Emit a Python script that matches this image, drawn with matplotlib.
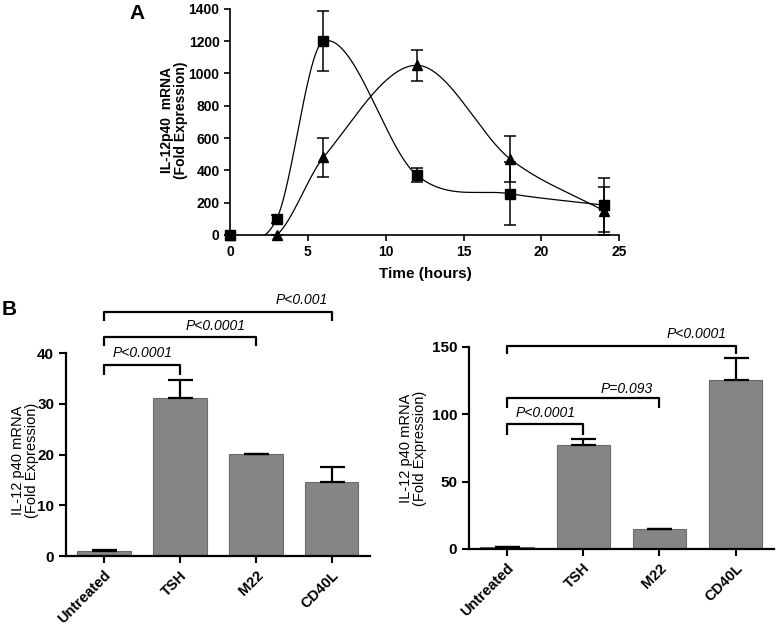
import numpy as np
import matplotlib
matplotlib.use('Agg')
import matplotlib.pyplot as plt
from matplotlib import font_manager

# panel A: time course
hours = [0, 3, 6, 12, 18, 24]
sq_vals = [0, 100, 1200, 370, 255, 185]
sq_err = [0, 25, 185, 45, 195, 165]
tri_vals = [0, 0, 480, 1050, 470, 150]
tri_err = [0, 0, 120, 95, 140, 150]

# panel B: bars
groups = ['Untreated', 'TSH', 'M22', 'CD40L']
left_vals = [1.1, 31.2, 20.1, 14.7]
left_err = [0.1, 3.5, 0.1, 2.8]
right_vals = [1.5, 77.5, 14.8, 125.5]
right_err = [0.3, 4.0, 0.3, 16.0]

left_labels = ['P<0.0001', 'P<0.0001', 'P<0.001']
right_labels = ['P<0.0001', 'P=0.093', 'P<0.0001']


def has_font(name):
    try:
        font_manager.findfont(font_manager.FontProperties(family=name),
                              fallback_to_default=False)
        return True
    except Exception:
        return False


narrow = 'Liberation Sans Narrow' if has_font('Liberation Sans Narrow') else 'Liberation Sans'
plt.rcParams['font.family'] = ['Liberation Sans', 'DejaVu Sans']


def smooth(x, y, xs):
    # cubic Hermite curve with centred-difference slopes (like a cardinal spline)
    x = np.asarray(x, float)
    y = np.asarray(y, float)
    n = len(x)
    h = np.diff(x)
    m = np.zeros(n)
    for k in range(1, n - 1):
        m[k] = (y[k + 1] - y[k - 1]) / (x[k + 1] - x[k - 1])
    m[-1] = (y[-1] - y[-2]) / h[-1]
    out = np.empty_like(xs)
    for i, xv in enumerate(xs):
        k = min(np.searchsorted(x, xv, side='right') - 1, n - 2)
        t = (xv - x[k]) / h[k]
        h00 = 2 * t**3 - 3 * t**2 + 1
        h10 = t**3 - 2 * t**2 + t
        h01 = -2 * t**3 + 3 * t**2
        h11 = t**3 - t**2
        out[i] = h00 * y[k] + h10 * h[k] * m[k] + h01 * y[k + 1] + h11 * h[k] * m[k + 1]
    return out


fig = plt.figure(figsize=(7.77, 6.25), dpi=100)

# ---------- panel A ----------
axA = fig.add_axes([0.296, 0.624, 0.501, 0.362])
xs = np.linspace(0, 24, 400)
axA.plot(xs, smooth(hours, sq_vals, xs), color='black', lw=0.9)
axA.plot(xs, smooth(hours, tri_vals, xs), color='black', lw=0.9)
axA.errorbar(hours, tri_vals, yerr=tri_err, fmt='^', color='black', ms=7.5,
             elinewidth=1.1, capsize=4.5, capthick=1.1, clip_on=False, zorder=3)
axA.errorbar(hours, sq_vals, yerr=sq_err, fmt='s', color='black', ms=7.5,
             elinewidth=1.1, capsize=4.5, capthick=1.1, clip_on=False, zorder=4)
axA.set_xlim(0, 25)
axA.set_ylim(0, 1400)
axA.set_xticks([0, 5, 10, 15, 20, 25])
axA.set_yticks(range(0, 1401, 200))
for s in ['top', 'right']:
    axA.spines[s].set_visible(False)
for s in ['left', 'bottom']:
    axA.spines[s].set_linewidth(1.2)
axA.tick_params(width=1.2, length=4, labelsize=10)
for lab in axA.get_xticklabels() + axA.get_yticklabels():
    lab.set_family(narrow)
    lab.set_fontweight('bold')
fig.text(0.547, 0.562, 'Time (hours)', ha='center', va='center',
         fontsize=11, fontweight='bold', family=narrow)
fig.text(0.224, 0.808, 'IL-12p40  mRNA\n(Fold Expression)', rotation=90,
         ha='center', va='center', fontsize=10, fontweight='bold',
         family=narrow, linespacing=1.0)
fig.text(0.177, 0.978, 'A', ha='center', va='center', fontsize=15,
         fontweight='bold')
fig.text(0.012, 0.505, 'B', ha='center', va='center', fontsize=15,
         fontweight='bold')


def bar_panel(ax, vals, errs, ymax, yticks, brackets, labels, texts):
    pos = np.arange(len(groups))
    ax.bar(pos, vals, width=0.7, color='#858585', edgecolor='#6a6a6a',
           linewidth=0.8, zorder=2)
    ax.errorbar(pos, vals, yerr=[np.zeros(len(vals)), errs], fmt='none',
                ecolor='black', elinewidth=1.6, capsize=9, capthick=1.6,
                zorder=3)
    ax.set_xlim(-0.5, 3.5)
    ax.set_ylim(0, ymax)
    ax.set_xticks(pos)
    ax.set_xticklabels(groups, rotation=45, ha='right', rotation_mode='anchor',
                       fontsize=10.5, fontweight='bold')
    ax.set_yticks(yticks)
    for lab in ax.get_yticklabels():
        lab.set_fontweight('bold')
    ax.tick_params(width=1.5, length=5)
    ax.tick_params(axis='y', labelsize=11)
    for s in ['top', 'right']:
        ax.spines[s].set_visible(False)
    for s in ['left', 'bottom']:
        ax.spines[s].set_linewidth(1.6)
    for (a, b, top, drop), lab, (tx, ty) in zip(brackets, labels, texts):
        ax.plot([a, a, b, b], [top - drop, top, top, top - drop], color='black',
                lw=1.6, clip_on=False, solid_capstyle='butt')
        ax.text(tx, ty, lab, ha='center', va='center', fontsize=10,
                style='italic')


axL = fig.add_axes([0.085, 0.110, 0.391, 0.325])
bar_panel(axL, left_vals, left_err, 40, [0, 10, 20, 30, 40],
          [(0, 1, 37.7, 2.0), (0, 2, 43.2, 1.8), (0, 3, 48.1, 1.8)],
          left_labels, [(0.51, 40.0), (1.47, 45.3), (2.6, 50.4)])
fig.text(0.032, 0.264, 'IL-12 p40 mRNA\n(Fold Expression)', rotation=90,
         ha='center', va='center', fontsize=10.5, linespacing=1.0)

axR = fig.add_axes([0.6036, 0.1216, 0.392, 0.3232])
bar_panel(axR, right_vals, right_err, 150, [0, 50, 100, 150],
          [(0, 1, 92.6, 7.6), (0, 2, 112, 7.5), (0, 3, 151, 6)],
          right_labels, [(0.5, 100.7), (1.57, 119), (2.49, 160)])
fig.text(0.532, 0.283, 'IL-12 p40 mRNA\n(Fold Expression)', rotation=90,
         ha='center', va='center', fontsize=10.5, linespacing=1.0)

fig.savefig('out.png', dpi=100)
